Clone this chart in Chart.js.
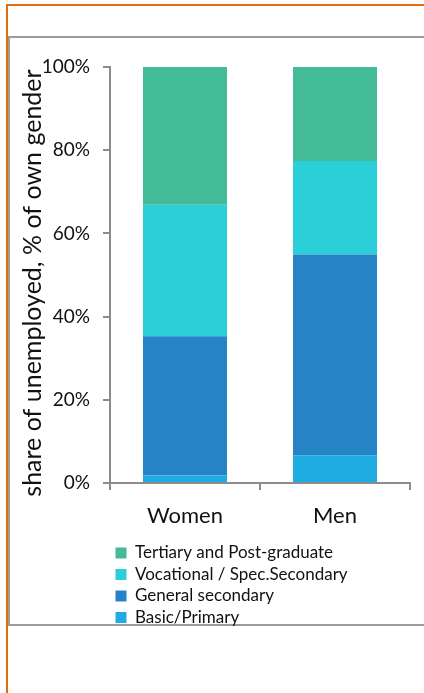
<!DOCTYPE html>
<html>
<head>
<meta charset="utf-8">
<script src="https://cdn.jsdelivr.net/npm/chart.js@4"></script>
<style>
  html, body { margin: 0; padding: 0; background: #fff; }
  body { width: 424px; height: 693px; position: relative; overflow: hidden; }
  #orangeTop { position: absolute; left: 6px; top: 4px; width: 418px; height: 2px; background: #E46C0A; }
  #orangeLeft { position: absolute; left: 6px; top: 4px; width: 2px; height: 689px; background: #E46C0A; }
  #grayBox { position: absolute; left: 8px; top: 36px; width: 430px; height: 590px; border: 2px solid #9C9C9C; box-sizing: border-box; }
  #wrap { position: absolute; left: 0; top: 0; width: 424px; height: 693px; }
</style>
</head>
<body>
<div id="orangeTop"></div>
<div id="orangeLeft"></div>
<div id="grayBox"></div>
<div id="wrap"><canvas id="c" width="424" height="693"></canvas></div>
<script>
// ---- data ----
const categories = ['Women', 'Men'];
const basicPrimary = [1.8, 6.7];
const generalSecondary = [33.5, 48.2];
const vocationalSecondary = [31.6, 22.5];
const tertiaryPostgrad = [33.1, 22.6];
const seriesNames = ['Basic/Primary', 'General secondary', 'Vocational / Spec.Secondary', 'Tertiary and Post-graduate'];
const yTicks = [0, 20, 40, 60, 80, 100];
const yTitle = 'share of unemployed, % of own gender';

const FONT = 'Lato, "Open Sans", sans-serif';
const colors = ['#1EACE3', '#2683C6', '#2ACFD8', '#44BB97'];
const TITLE_SHIFT = 8;

const placement = {
  id: 'placement',
  afterLayout(chart) {
    const lg = chart.legend;
    if (lg) {
      lg.left = 111; lg.right = 424; lg.top = 540; lg.bottom = 693;
      lg.width = lg.right - lg.left; lg.height = lg.bottom - lg.top;
    }
    // nudge only the y-axis title a little lower (it is centred on the scale box)
    const y = chart.scales.y;
    if (y && !y._titleNudged) {
      const orig = y.drawTitle;
      y.drawTitle = function () {
        this.top += TITLE_SHIFT; this.bottom += TITLE_SHIFT;
        try { orig.call(this); } finally { this.top -= TITLE_SHIFT; this.bottom -= TITLE_SHIFT; }
      };
      y._titleNudged = true;
    }
  }
};

new Chart(document.getElementById('c'), {
  type: 'bar',
  data: {
    labels: categories,
    datasets: [basicPrimary, generalSecondary, vocationalSecondary, tertiaryPostgrad].map((d, i) => ({
      label: seriesNames[i],
      data: d,
      backgroundColor: colors[i],
      borderWidth: 0,
      categoryPercentage: 1,
      barPercentage: 0.56
    }))
  },
  options: {
    responsive: false,
    animation: false,
    devicePixelRatio: 1,
    layout: { padding: { left: 14, right: 14, top: 67, bottom: 160 } },
    plugins: {
      tooltip: { enabled: false },
      legend: {
        position: 'chartArea',
        align: 'start',
        reverse: true,
        labels: {
          boxWidth: 11, boxHeight: 11, padding: 4.5,
          color: '#111',
          font: { family: FONT, size: 17 }
        }
      }
    },
    scales: {
      x: {
        stacked: true,
        grid: { drawOnChartArea: false, drawTicks: true, tickLength: 7, color: '#8C8C8C', lineWidth: 2, offset: true },
        border: { display: true, color: '#8C8C8C', width: 2 },
        ticks: { color: '#111', padding: 13, font: { family: FONT, size: 22 } },
        afterFit(s) { s.height = 50; }
      },
      y: {
        stacked: true,
        min: 0, max: 100,
        afterBuildTicks(s) { s.ticks = yTicks.map(v => ({ value: v })); },
        grid: { drawOnChartArea: false, drawTicks: true, tickLength: 7, color: '#8C8C8C', lineWidth: 2 },
        border: { display: true, color: '#8C8C8C', width: 2 },
        ticks: { color: '#111', padding: 13, font: { family: FONT, size: 19 }, callback: v => v + '%' },
        title: { display: true, text: yTitle, color: '#111', font: { family: FONT, size: 25 }, padding: { top: 4, bottom: 0 } },
        afterFit(s) { s.width = 96; }
      }
    }
  },
  plugins: [placement]
});
</script>
</body>
</html>
